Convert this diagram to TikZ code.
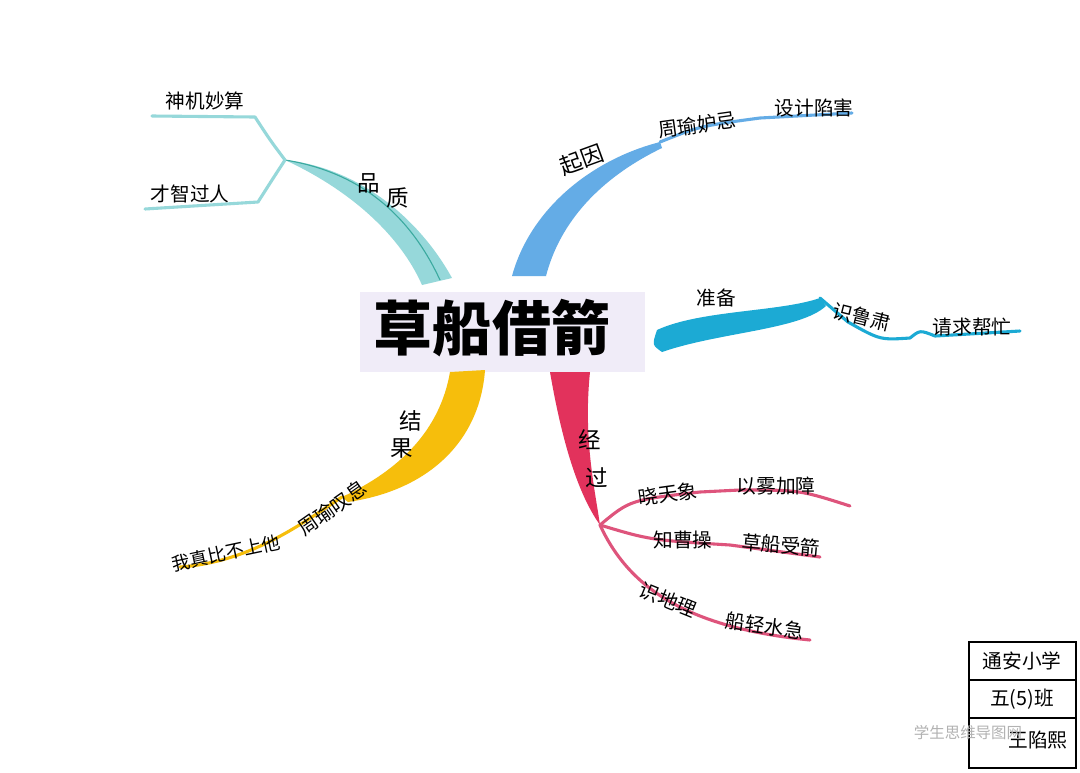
\documentclass[tikz,border=0pt]{standalone}
\usepackage{fontspec}
\setmainfont{Noto Sans CJK SC}
\usepackage{tikz}
\definecolor{tealb}{RGB}{150,216,218}
\definecolor{teald}{RGB}{60,170,160}
\definecolor{blueb}{RGB}{100,172,230}
\definecolor{cyanb}{RGB}{28,170,212}
\definecolor{redb}{RGB}{226,50,92}
\definecolor{pinkb}{RGB}{222,84,124}
\definecolor{yellowb}{RGB}{246,190,12}
\definecolor{lav}{RGB}{240,236,248}

\begin{document}
\begin{tikzpicture}[x=0.025cm, y=-0.025cm,
  lab/.style={inner sep=1pt, font=\fontsize{14}{14}\selectfont},
  big/.style={inner sep=1pt, font=\fontsize{16}{16}\selectfont},
  twig/.style={line width=2.2pt, line cap=round, line join=round}]
\useasboundingbox (0,0) rectangle (1080,772);
\fill[white] (0,0) rectangle (1080,772);

% title
\fill[lav] (360,292) rectangle (645,372);
\node[font=\fontsize{42}{42}\selectfont\bfseries] (title) at (492,328) {草船借箭};

% junctions
\coordinate (jq) at (285,160);
\coordinate (jb) at (660,142);
\coordinate (jc) at (820,298);
\coordinate (jr) at (600,525);
\coordinate (jy) at (342,497);

% 品质
\fill[tealb] (422,285) .. controls (400,235) and (350,190) .. (jq)
  .. controls (360,168) and (420,220) .. (452,278) -- cycle;
\draw[teald, line width=0.8pt] (jq) .. controls (360,172) and (410,215) .. (440,280);
\node[lab] (sj) at (205,101) {神机妙算};
\node[lab] (cz) at (190,194) {才智过人};
\draw[twig, tealb] (jq) .. controls (270,140) .. (255,117) -- (152,116);
\draw[twig, tealb] (jq) .. controls (272,180) .. (258,202) -- (145,209);
\node[big] (pz1) at (369,183) {品};
\node[big] (pz2) at (398,198) {质};

% 起因
\fill[blueb] (512,276) .. controls (530,210) and (590,160) .. (jb)
  -- (662,148) .. controls (600,178) and (560,222) .. (546,276) -- cycle;
\draw[twig, blueb] (jb) .. controls (700,126) .. (760,118) -- (852,113);
\node[big, rotate=20] (qy) at (582,160) {起因};
\node[lab, rotate=8] (zy) at (697,125) {周瑜妒忌};
\node[lab] (sh) at (814,108) {设计陷害};

% 准备
\fill[cyanb] (657,330) .. controls (700,310) and (780,312) .. (jc)
  -- (826,306) .. controls (800,330) and (720,332) .. (662,352)
  .. controls (652,345) .. cycle;
\draw[twig, cyanb] (jc) -- (848,322) .. controls (880,340) .. (910,338)
  .. controls (920,330) .. (935,336) -- (1020,331);
\node[lab] (zb) at (716,298) {准备};
\node[lab, rotate=-14] (sl) at (862,317) {识鲁肃};
\node[lab] (qq) at (972,327) {请求帮忙};

% 经过
\fill[redb] (550,372) .. controls (560,430) and (575,490) .. (jr)
  -- (598,512) .. controls (592,475) and (584,430) .. (590,372) -- cycle;
\draw[twig, pinkb] (jr) .. controls (630,500) .. (700,492) -- (740,490)
  .. controls (800,490) .. (850,506);
\draw[twig, pinkb] (jr) .. controls (650,540) .. (730,545) -- (820,557);
\draw[twig, pinkb] (jr) .. controls (630,590) and (690,628) .. (810,640);
\node[big] (jg1) at (590,440) {经};
\node[big] (jg2) at (597,478) {过};
\node[lab, rotate=8] (xt) at (668,494) {晓天象};
\node[lab] (yw) at (776,486) {以雾加障};
\node[lab] (zc) at (683,540) {知曹操};
\node[lab, rotate=-5] (cs) at (781,545) {草船受箭};
\node[lab, rotate=-22] (sd) at (668,600) {识地理};
\node[lab, rotate=-8] (cq) at (765,626) {船轻水急};

% 结果
\fill[yellowb] (450,372) .. controls (440,430) and (400,470) .. (jy)
  -- (348,502) .. controls (430,490) and (480,440) .. (485,370) -- cycle;
\draw[twig, yellowb] (jy) .. controls (300,525) and (250,562) .. (180,567);
\node[big] (jg3) at (411,421) {结};
\node[big] (jg4) at (402,448) {果};
\node[lab, rotate=35] (zt) at (332,508) {周瑜叹息};
\node[lab, rotate=12, font=\fontsize{13}{13}\selectfont] (wz) at (226,553) {我真比不上他};

% info box
\draw[line width=1pt] (969,768) rectangle (1076,642);
\draw[line width=1pt] (969,680) -- (1076,680);
\draw[line width=1pt] (969,718) -- (1076,718);
\node[lab] (xx) at (1022,661) {通安小学};
\node[lab] (bj) at (1022,699) {五(5)班};
\node[lab] (xm) at (1038,740) {王陷熙};
\node[text=gray!60, font=\fontsize{11}{11}\selectfont] (wm) at (968,733) {学生思维导图网};
\end{tikzpicture}
\end{document}
